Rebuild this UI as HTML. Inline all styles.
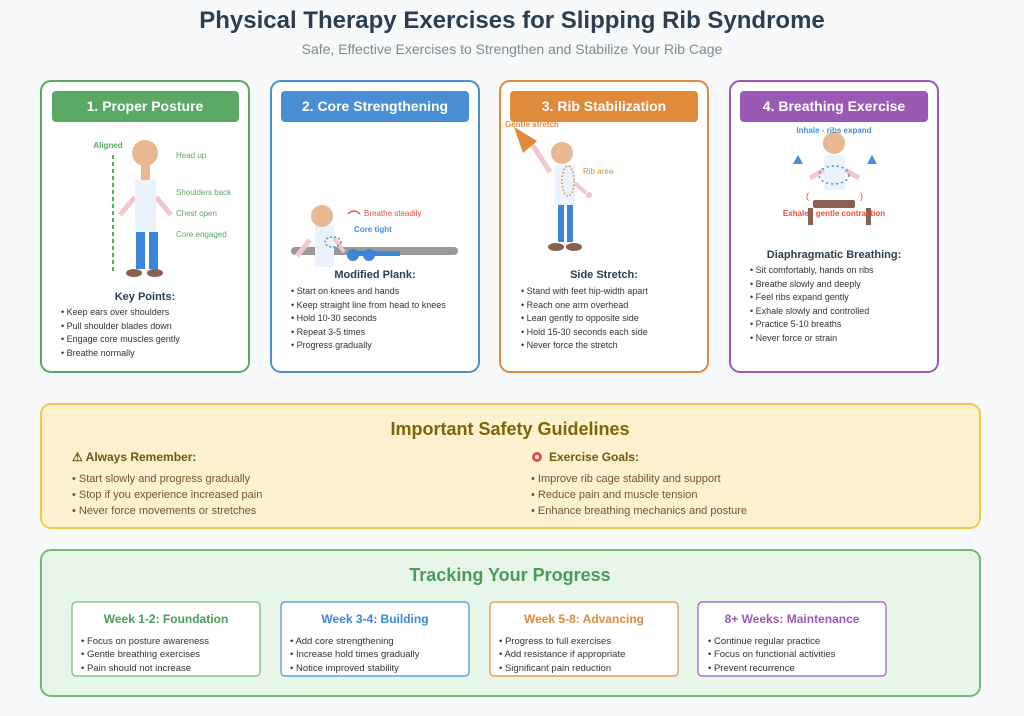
<!DOCTYPE html>
<html><head><meta charset="utf-8"><style>
html,body{margin:0;padding:0;background:#f7f9fb;}
svg{display:block;font-family:"Liberation Sans",sans-serif;}
</style></head><body>
<svg width="1024" height="716" viewBox="0 0 1024 716" xmlns="http://www.w3.org/2000/svg">
<rect width="1024" height="716" fill="#f7f9fb"/>
<text x="512" y="28" text-anchor="middle" font-size="24" font-weight="bold" fill="#2c3e50">Physical Therapy Exercises for Slipping Rib Syndrome</text>
<text x="512" y="54" text-anchor="middle" font-size="14" fill="#7f8c8d">Safe, Effective Exercises to Strengthen and Stabilize Your Rib Cage</text>

<!-- Cards -->
<rect x="41" y="81" width="208" height="291" rx="10" fill="#fff" stroke="#5aa864" stroke-width="2"/>
<rect x="52" y="91" width="187" height="31" rx="4" fill="#5aa864"/>
<text x="145" y="111" text-anchor="middle" font-size="14" font-weight="bold" fill="#fff">1. Proper Posture</text>
<rect x="271" y="81" width="208" height="291" rx="10" fill="#fff" stroke="#4a8fd4" stroke-width="2"/>
<rect x="281" y="91" width="188" height="31" rx="4" fill="#4a8fd4"/>
<text x="375" y="111" text-anchor="middle" font-size="14" font-weight="bold" fill="#fff">2. Core Strengthening</text>
<rect x="500" y="81" width="208" height="291" rx="10" fill="#fff" stroke="#e08a3c" stroke-width="2"/>
<rect x="510" y="91" width="188" height="31" rx="4" fill="#e08a3c"/>
<text x="604" y="111" text-anchor="middle" font-size="14" font-weight="bold" fill="#fff">3. Rib Stabilization</text>
<rect x="730" y="81" width="208" height="291" rx="10" fill="#fff" stroke="#9b59b6" stroke-width="2"/>
<rect x="740" y="91" width="188" height="31" rx="4" fill="#9b59b6"/>
<text x="834" y="111" text-anchor="middle" font-size="14" font-weight="bold" fill="#fff">4. Breathing Exercise</text>

<!-- Card1 figure -->
<line x1="113" y1="155" x2="113" y2="273" stroke="#5aa864" stroke-width="2" stroke-dasharray="4,3"/>
<text x="108" y="148" text-anchor="middle" font-size="8" font-weight="bold" fill="#5aa864">Aligned</text>
<circle cx="145" cy="153" r="13" fill="#e8b890"/>
<rect x="141" y="165" width="9" height="15" fill="#e8b890"/>
<line x1="135" y1="197" x2="120" y2="215" stroke="#f5c5cf" stroke-width="5"/>
<line x1="156" y1="197" x2="171" y2="215" stroke="#f5c5cf" stroke-width="5"/>
<rect x="135" y="180" width="21" height="52" fill="#eaf2fb"/>
<rect x="136" y="232" width="9" height="37" fill="#3d85d8"/>
<rect x="149" y="232" width="9" height="37" fill="#3d85d8"/>
<ellipse cx="134" cy="273" rx="8" ry="4" fill="#8b6050"/>
<ellipse cx="155" cy="273" rx="8" ry="4" fill="#8b6050"/>
<g font-size="8" fill="#5aa864">
<text x="176" y="158">Head up</text><text x="176" y="195">Shoulders back</text><text x="176" y="216">Chest open</text><text x="176" y="237">Core engaged</text></g>
<text x="145" y="300" text-anchor="middle" font-size="11" font-weight="bold" fill="#2c3e50">Key Points:</text>
<g font-size="9" fill="#333"><text x="61" y="315">• Keep ears over shoulders</text><text x="61" y="329">• Pull shoulder blades down</text><text x="61" y="342">• Engage core muscles gently</text><text x="61" y="356">• Breathe normally</text></g>

<!-- Card2 figure -->
<rect x="291" y="247" width="167" height="8" rx="4" fill="#999"/>
<line x1="310" y1="240" x2="297" y2="256" stroke="#f5c5cf" stroke-width="5"/>
<rect x="315" y="225" width="19" height="42" fill="#eaf2fb"/>
<circle cx="322" cy="216" r="11" fill="#e8b890"/>
<line x1="334" y1="238" x2="344" y2="252" stroke="#f5c5cf" stroke-width="4"/>
<ellipse cx="333" cy="242" rx="8" ry="5" fill="none" stroke="#4a8fd4" stroke-width="1.5" stroke-dasharray="2,2"/>
<rect x="350" y="251" width="50" height="5" fill="#3d85d8"/>
<circle cx="353" cy="255" r="6" fill="#3d85d8"/><circle cx="369" cy="255" r="6" fill="#3d85d8"/>
<path d="M348,214 Q354,208 360,214" fill="none" stroke="#e74c3c" stroke-width="1.5"/>
<text x="364" y="216" font-size="8" fill="#e74c3c">Breathe steadily</text>
<text x="354" y="232" font-size="8" font-weight="bold" fill="#4a8fd4">Core tight</text>
<text x="375" y="278" text-anchor="middle" font-size="11" font-weight="bold" fill="#2c3e50">Modified Plank:</text>
<g font-size="9" fill="#333"><text x="291" y="294">• Start on knees and hands</text><text x="291" y="308">• Keep straight line from head to knees</text><text x="291" y="321">• Hold 10-30 seconds</text><text x="291" y="335">• Repeat 3-5 times</text><text x="291" y="348">• Progress gradually</text></g>

<!-- Card3 figure -->
<line x1="550" y1="172" x2="528" y2="138" stroke="#f5c5cf" stroke-width="5"/>
<polygon points="514,127 537,141 523,153" fill="#e08a3c"/>
<text x="505" y="127" font-size="8" font-weight="bold" fill="#e08a3c">Gentle stretch</text>
<circle cx="562" cy="153" r="11" fill="#e8b890"/>
<rect x="555" y="165" width="20" height="40" fill="#eaf2fb"/>
<line x1="575" y1="183" x2="586" y2="193" stroke="#f5c5cf" stroke-width="4"/>
<circle cx="589" cy="195" r="3" fill="#f5c5cf"/>
<ellipse cx="568" cy="181" rx="6" ry="15" fill="none" stroke="#e08a3c" stroke-width="1.5" stroke-dasharray="1.5,2"/>
<text x="583" y="174" font-size="8" fill="#e08a3c">Rib area</text>
<rect x="558" y="205" width="6" height="37" fill="#3d85d8"/><rect x="567" y="205" width="6" height="37" fill="#3d85d8"/>
<ellipse cx="556" cy="247" rx="8" ry="4" fill="#8b6050"/><ellipse cx="574" cy="247" rx="8" ry="4" fill="#8b6050"/>
<text x="604" y="278" text-anchor="middle" font-size="11" font-weight="bold" fill="#2c3e50">Side Stretch:</text>
<g font-size="9" fill="#333"><text x="521" y="294">• Stand with feet hip-width apart</text><text x="521" y="308">• Reach one arm overhead</text><text x="521" y="321">• Lean gently to opposite side</text><text x="521" y="335">• Hold 15-30 seconds each side</text><text x="521" y="348">• Never force the stretch</text></g>

<!-- Card4 figure -->
<rect x="824" y="155" width="21" height="35" fill="#eaf2fb"/>
<circle cx="834" cy="143" r="11" fill="#e8b890"/>
<line x1="824" y1="170" x2="810" y2="178" stroke="#f5c5cf" stroke-width="5"/>
<line x1="845" y1="170" x2="859" y2="178" stroke="#f5c5cf" stroke-width="5"/>
<ellipse cx="834" cy="175" rx="15" ry="9" fill="none" stroke="#4a8fd4" stroke-width="1.5" stroke-dasharray="2,3"/>
<polygon points="798,155 793,164 803,164" fill="#4a8fd4"/><polygon points="872,155 867,164 877,164" fill="#4a8fd4"/>
<text x="806" y="199" font-size="9" fill="#e74c3c">(</text><text x="860" y="199" font-size="9" fill="#e74c3c">)</text>
<rect x="813" y="200" width="42" height="8" rx="2" fill="#8b6050"/>
<rect x="808" y="208" width="5" height="17" fill="#8b6050"/><rect x="866" y="208" width="5" height="17" fill="#8b6050"/>
<text x="834" y="216" text-anchor="middle" font-size="8" font-weight="bold" fill="#e74c3c">Exhale - gentle contraction</text>
<text x="834" y="133" text-anchor="middle" font-size="8" font-weight="bold" fill="#4a8fd4">Inhale - ribs expand</text>
<text x="834" y="258" text-anchor="middle" font-size="11" font-weight="bold" fill="#2c3e50">Diaphragmatic Breathing:</text>
<g font-size="9" fill="#333"><text x="750" y="273">• Sit comfortably, hands on ribs</text><text x="750" y="287">• Breathe slowly and deeply</text><text x="750" y="300">• Feel ribs expand gently</text><text x="750" y="314">• Exhale slowly and controlled</text><text x="750" y="327">• Practice 5-10 breaths</text><text x="750" y="341">• Never force or strain</text></g>

<!-- Safety -->
<rect x="41" y="404" width="939" height="124" rx="10" fill="#fdf1cf" stroke="#f2c94c" stroke-width="2"/>
<text x="510" y="435" text-anchor="middle" font-size="18" font-weight="bold" fill="#7d6608">Important Safety Guidelines</text>
<text x="72" y="461" font-size="12" font-weight="bold" fill="#6b5a12">⚠ Always Remember:</text>
<g font-size="11" fill="#6b5a2a"><text x="72" y="482">• Start slowly and progress gradually</text><text x="72" y="498">• Stop if you experience increased pain</text><text x="72" y="514">• Never force movements or stretches</text></g>
<circle cx="537" cy="457" r="5" fill="#e74c3c"/><circle cx="537" cy="457" r="2" fill="#fff"/>
<text x="549" y="461" font-size="12" font-weight="bold" fill="#6b5a12">Exercise Goals:</text>
<g font-size="11" fill="#6b5a2a"><text x="531" y="482">• Improve rib cage stability and support</text><text x="531" y="498">• Reduce pain and muscle tension</text><text x="531" y="514">• Enhance breathing mechanics and posture</text></g>

<!-- Tracking -->
<rect x="41" y="550" width="939" height="146" rx="10" fill="#e8f5e9" stroke="#6dbb7a" stroke-width="2"/>
<text x="510" y="581" text-anchor="middle" font-size="18" font-weight="bold" fill="#4a9c5a">Tracking Your Progress</text>
<rect x="72" y="602" width="188" height="74" rx="4" fill="#fff" stroke="#6dbb7a" stroke-width="1.2"/>
<rect x="281" y="602" width="188" height="74" rx="4" fill="#fff" stroke="#4a8fd4" stroke-width="1.2"/>
<rect x="490" y="602" width="188" height="74" rx="4" fill="#fff" stroke="#e08a3c" stroke-width="1.2"/>
<rect x="698" y="602" width="188" height="74" rx="4" fill="#fff" stroke="#9b59b6" stroke-width="1.2"/>
<g font-size="12" font-weight="bold" text-anchor="middle">
<text x="166" y="623" fill="#4a9c5a">Week 1-2: Foundation</text>
<text x="375" y="623" fill="#3d85d8">Week 3-4: Building</text>
<text x="584" y="623" fill="#e08a3c">Week 5-8: Advancing</text>
<text x="792" y="623" fill="#9b59b6">8+ Weeks: Maintenance</text></g>
<g font-size="9.5" fill="#333">
<text x="81" y="644">• Focus on posture awareness</text><text x="81" y="657">• Gentle breathing exercises</text><text x="81" y="671">• Pain should not increase</text>
<text x="290" y="644">• Add core strengthening</text><text x="290" y="657">• Increase hold times gradually</text><text x="290" y="671">• Notice improved stability</text>
<text x="499" y="644">• Progress to full exercises</text><text x="499" y="657">• Add resistance if appropriate</text><text x="499" y="671">• Significant pain reduction</text>
<text x="708" y="644">• Continue regular practice</text><text x="708" y="657">• Focus on functional activities</text><text x="708" y="671">• Prevent recurrence</text></g>
</svg>
</body></html>
